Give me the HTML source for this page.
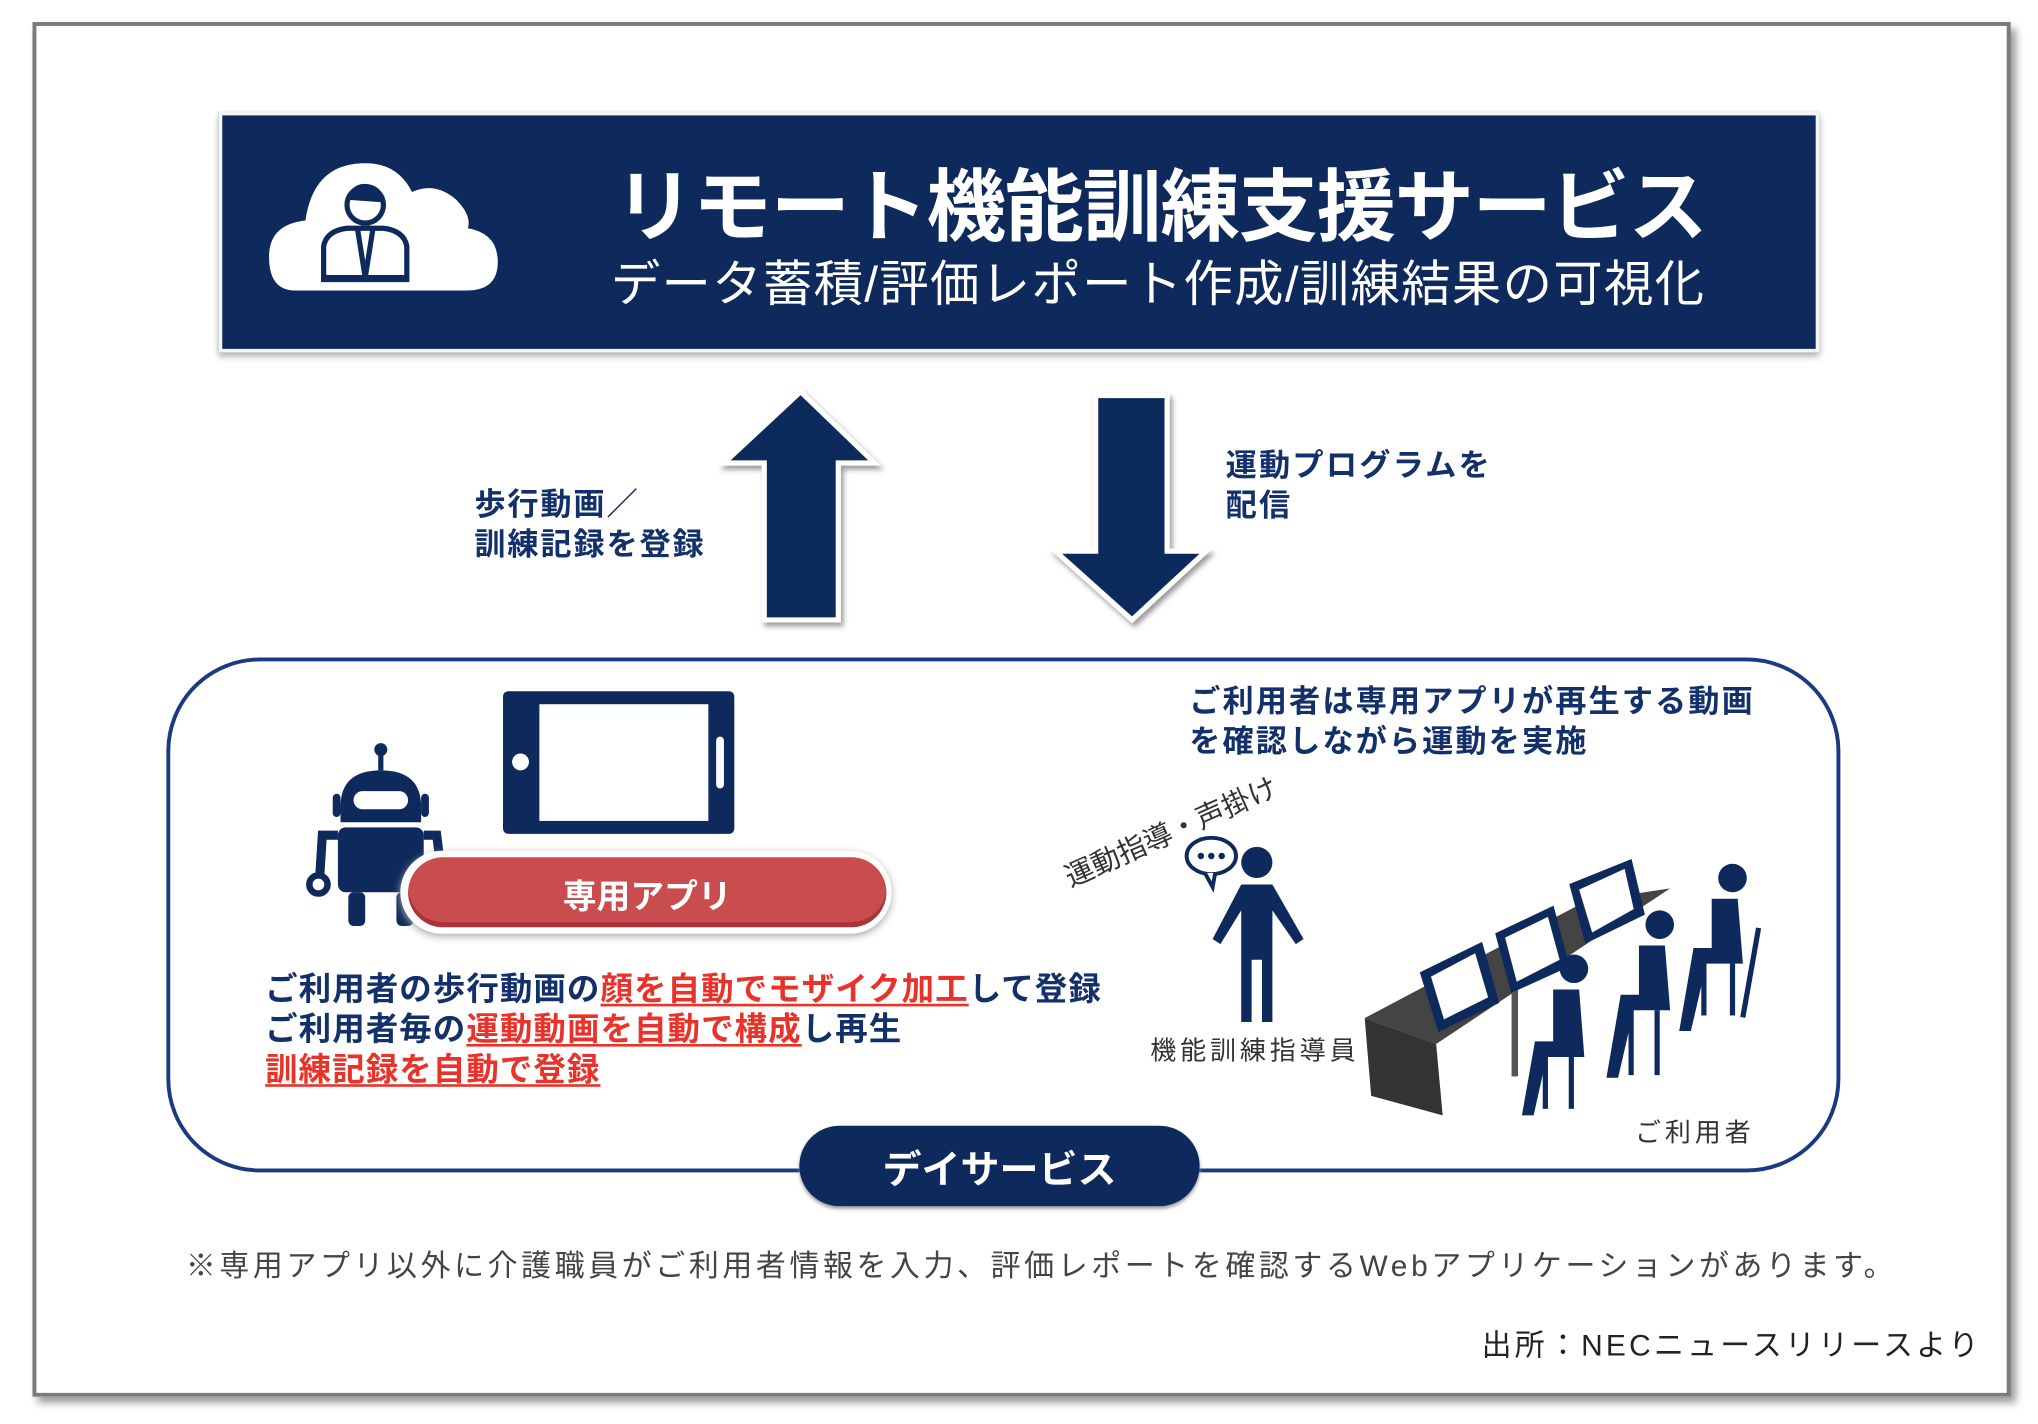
<!DOCTYPE html>
<html><head><meta charset="utf-8">
<style>
html,body{margin:0;padding:0;background:#fff;width:2038px;height:1424px;overflow:hidden}
#w{position:absolute;left:0;top:0;width:1568px;height:1098px;transform-origin:0 0;transform:scale(1.2997,1.2969);font-family:"Liberation Sans","Noto Sans CJK JP",sans-serif}
.a{position:absolute;white-space:nowrap}
.nv{color:#13306b;font-weight:bold}
.red{color:#e8332a;text-decoration:underline;text-decoration-color:#e8332a;text-underline-offset:3px}
</style></head><body>
<div id="w">
<div class="a" style="left:25px;top:17px;width:1516px;height:1054px;border:3px solid #7a7a7a;box-shadow:4px 5px 6px #999"></div>
<!-- banner -->
<div class="a" style="left:168px;top:86px;width:1226px;height:180px;background:#0e2a5c;border:3px solid #f4f4f4;box-shadow:0 3px 5px #aaa"></div>
<svg class="a" style="left:205px;top:118px" width="180" height="112" viewBox="0 0 180 112">
<path d="M22 106 Q2 106 2 80 Q2 55 30 52 Q36 10 72 8 Q100 6 112 30 Q130 22 146 36 Q158 48 155 58 Q178 62 178 84 Q178 106 154 106 Z" fill="#fff"/>
<circle cx="76" cy="40" r="14" fill="none" stroke="#0e2a5c" stroke-width="4"/>
<path d="M62 36 Q66 22 78 24 Q90 26 90 38" fill="#0e2a5c"/>
<path d="M44 96 L44 72 Q46 60 62 58 L90 58 Q106 60 108 72 L108 96 Z" fill="none" stroke="#0e2a5c" stroke-width="4"/>
<path d="M70 58 L76 96 L82 58" fill="none" stroke="#0e2a5c" stroke-width="4"/>
<line x1="42" y1="98" x2="110" y2="98" stroke="#0e2a5c" stroke-width="3"/>
</svg>
<div class="a" style="left:473px;top:110px;font-size:61px;font-weight:bold;color:#fff;letter-spacing:-1px">リモート機能訓練支援サービス</div>
<div class="a" style="left:470px;top:188px;font-size:38px;color:#fff;letter-spacing:1px">データ蓄積/評価レポート作成/訓練結果の可視化</div>
<!-- arrows -->
<svg class="a" style="left:540px;top:290px;overflow:visible" width="420" height="200">
<defs><filter id="sh"><feDropShadow dx="2" dy="3" stdDeviation="2" flood-color="#999"/></filter></defs>
<polygon points="76,12 133,67 105,67 105,188 48,188 48,67 17,67" fill="#0e2a5c" stroke="#fff" stroke-width="4" filter="url(#sh)"/>
<polygon points="303,15 358,15 358,135 388,135 331,188 272,135 303,135" fill="#0e2a5c" stroke="#fff" stroke-width="4" filter="url(#sh)"/>
</svg>
<div class="a nv" style="left:365px;top:374px;font-size:24px;line-height:31px;letter-spacing:1.4px">歩行動画／<br>訓練記録を登録</div>
<div class="a nv" style="left:943px;top:344px;font-size:24px;line-height:31px;letter-spacing:1.7px">運動プログラムを<br>配信</div>
<!-- box -->
<div class="a" style="left:128px;top:507px;width:1282px;height:391px;border:3px solid #1c3a82;border-radius:72px"></div>
<!-- tablet -->
<div class="a" style="left:387px;top:533px;width:178px;height:110px;background:#0e2a5c;border-radius:4px"></div>
<div class="a" style="left:415px;top:543px;width:130px;height:90px;background:#fff"></div>
<div class="a" style="left:394px;top:581px;width:13px;height:13px;background:#fff;border-radius:50%"></div>
<div class="a" style="left:551px;top:568px;width:6px;height:40px;background:#fff;border-radius:3px"></div>
<!-- robot -->
<svg class="a" style="left:232px;top:572px" width="120" height="145" viewBox="0 0 120 145">
<g fill="#0e2a5c">
<circle cx="61" cy="6" r="5"/><rect x="59" y="8" width="4" height="14"/>
<path d="M30 50 Q30 22 61 22 Q92 22 92 50 L92 62 L30 62 Z"/>
<rect x="24" y="40" width="6" height="18" rx="3"/><rect x="92" y="40" width="6" height="18" rx="3"/>
<rect x="28" y="66" width="66" height="50" rx="6"/>
<rect x="36" y="116" width="13" height="26" rx="4"/><rect x="73" y="116" width="13" height="26" rx="4"/>
</g>
<rect x="40" y="38" width="42" height="14" rx="7" fill="#fff"/>
<path d="M28 72 L16 72 L14 104" fill="none" stroke="#0e2a5c" stroke-width="7"/>
<path d="M94 72 L104 72 L108 104" fill="none" stroke="#0e2a5c" stroke-width="7"/>
<circle cx="13" cy="110" r="7" fill="none" stroke="#0e2a5c" stroke-width="5"/>
<circle cx="109" cy="110" r="7" fill="none" stroke="#0e2a5c" stroke-width="5"/>
</svg>
<!-- app pill -->
<div class="a" style="left:308px;top:656px;width:378px;height:64px;background:#fff;border-radius:32px;box-shadow:0 2px 6px #aaa"></div>
<div class="a" style="left:314px;top:661px;width:368px;height:54px;background:#c94d4f;border-radius:27px;box-shadow:inset 0 -4px 0 #a83639"></div>
<div class="a" style="left:314px;top:671px;width:368px;text-align:center;font-size:26px;font-weight:bold;color:#fff">専用アプリ</div>
<div class="a nv" style="left:204px;top:748px;font-size:25px;line-height:31px;letter-spacing:0.8px">ご利用者の歩行動画の<span class="red">顔を自動でモザイク加工</span>して登録<br>ご利用者毎の<span class="red">運動動画を自動で構成</span>し再生<br><span class="red">訓練記録を自動で登録</span></div>
<div class="a nv" style="left:915px;top:526px;font-size:24px;line-height:31px;letter-spacing:1.6px">ご利用者は専用アプリが再生する動画<br>を確認しながら運動を実施</div>
<div class="a" style="left:820px;top:660px;font-size:22px;color:#333;transform:rotate(-24deg);transform-origin:0 50%">運動指導・声掛け</div>
<!-- instructor -->
<svg class="a" style="left:905px;top:640px" width="110" height="155" viewBox="0 0 110 155">
<ellipse cx="27" cy="20" rx="19" ry="14" fill="#fff" stroke="#0e2a5c" stroke-width="3"/>
<path d="M22 33 L28 44 L30 33" fill="#fff" stroke="#0e2a5c" stroke-width="3"/>
<circle cx="19" cy="20" r="2.5" fill="#0e2a5c"/><circle cx="27" cy="20" r="2.5" fill="#0e2a5c"/><circle cx="35" cy="20" r="2.5" fill="#0e2a5c"/>
<g fill="#0e2a5c"><circle cx="62" cy="25" r="12"/>
<path d="M50 42 L74 42 L98 84 L92 88 L74 62 L74 148 L66 148 L66 100 L58 100 L58 148 L50 148 L50 62 L34 88 L28 84 Z"/></g>
</svg>
<div class="a" style="left:885px;top:794px;font-size:20px;color:#333;letter-spacing:3px">機能訓練指導員</div>
<!-- desk & users -->
<svg class="a" style="left:1045px;top:655px" width="335" height="210" viewBox="0 0 335 210">
<polygon points="5,130 175,40 240,30 60,150" fill="#444"/>
<polygon points="5,130 60,150 65,205 10,190" fill="#333"/>
<rect x="118" y="95" width="5" height="80" fill="#555"/>
<g fill="#0e2a5c" stroke="#0e2a5c">
<polygon points="48,95 95,72 108,118 62,140"/><polygon points="106,65 150,44 162,90 118,110"/><polygon points="163,27 210,8 220,50 175,72"/>
</g>
<g fill="#fff"><polygon points="56,98 90,80 100,114 66,131"/><polygon points="113,68 146,52 155,85 122,102"/><polygon points="170,31 205,15 212,46 180,64"/></g>
<g fill="#0e2a5c">
<circle cx="166" cy="92" r="11"/><path d="M150 108 L170 108 L174 160 L145 160 L135 205 L126 205 L136 148 L150 148 Z"/>
<rect x="142" y="160" width="4" height="40"/><rect x="162" y="160" width="4" height="40"/>
<circle cx="232" cy="58" r="11"/><path d="M216 74 L236 74 L240 124 L212 124 L200 176 L191 176 L202 112 L216 112 Z"/>
<rect x="208" y="124" width="4" height="50"/><rect x="228" y="124" width="4" height="50"/>
<circle cx="288" cy="22" r="11"/><path d="M272 38 L292 38 L296 88 L268 88 L256 140 L247 140 L258 76 L272 76 Z"/>
<rect x="264" y="88" width="4" height="40"/><rect x="286" y="88" width="4" height="40"/>
<rect x="300" y="60" width="4" height="70" transform="rotate(10 302 95)"/>
</g>
</svg>
<div class="a" style="left:1258px;top:857px;font-size:20px;color:#333;letter-spacing:3px">ご利用者</div>
<!-- day service -->
<div class="a" style="left:615px;top:868px;width:308px;height:62px;background:#0e2a5c;border-radius:31px;box-shadow:0 2px 3px #999"></div>
<div class="a" style="left:615px;top:877px;width:308px;text-align:center;font-size:30px;font-weight:bold;color:#fff">デイサービス</div>
<div class="a" style="left:143px;top:957px;font-size:23px;color:#444;letter-spacing:2.8px">※専用アプリ以外に介護職員がご利用者情報を入力、評価レポートを確認するWebアプリケーションがあります。</div>
<div class="a" style="left:1140px;top:1018px;font-size:23px;color:#222;letter-spacing:2.5px">出所：NECニュースリリースより</div>
</div>
</body></html>
